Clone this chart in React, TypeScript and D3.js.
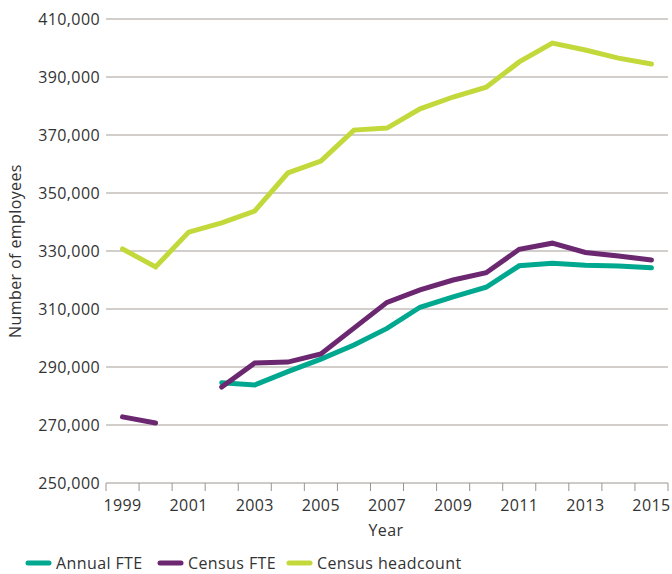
import React from "react";
import * as d3 from "d3";

const years = [
  1999, 2000, 2001, 2002, 2003, 2004, 2005, 2006, 2007, 2008, 2009, 2010, 2011, 2012, 2013, 2014, 2015,
];
const annualFte = [
  null, null, null, 284600, 283800, 288400, 292700, 297600, 303300, 310600, 314200, 317500, 324900, 325800, 325100, 324800, 324200,
];
const censusFte = [
  272800, 270700, null, 283100, 291400, 291700, 294500, 303400, 312300, 316600, 320000, 322500, 330600, 332700, 329500, 328300, 326900,
];
const censusHeadcount = [
  330700, 324500, 336500, 339700, 343800, 356900, 361000, 371700, 372400, 379000, 383100, 386500, 395200, 401700, 399300, 396500, 394500,
];
const yTicks = [250000, 270000, 290000, 310000, 330000, 350000, 370000, 390000, 410000];

const series = [
  { name: "Annual FTE", values: annualFte, color: "#00a88f" },
  { name: "Census FTE", values: censusFte, color: "#6b2770" },
  { name: "Census headcount", values: censusHeadcount, color: "#c3d93b" },
];

const W = 672;
const H = 574;
const left = 106;
const right = 668;
const top = 19;
const bottom = 483;
const font = "'Open Sans', sans-serif";
const textColor = "#333";
const fs = 16;
const ls = 0.4;

export default function App() {
  const x = d3
    .scaleBand<string>()
    .domain(years.map(String))
    .range([left, right])
    .padding(0);
  const y = d3.scaleLinear().domain([250000, 410000]).range([bottom, top]);
  const cx = (i: number) => (x(String(years[i])) as number) + x.bandwidth() / 2;

  const line = d3
    .line<number | null>()
    .defined((d) => d != null)
    .x((_, i) => cx(i))
    .y((d) => y(d as number));

  const tickXs = years.map((yr) => x(String(yr)) as number).concat([right]);

  return (
    <svg
      width={W}
      height={H}
      style={{ position: "absolute", left: 0, top: 0, fontFamily: font, letterSpacing: ls }}
    >
      {/* gridlines and y labels */}
      {yTicks.map((t) => (
        <g key={t}>
          {t !== 250000 && (
            <line x1={left} x2={right} y1={y(t)} y2={y(t)} stroke="#c2beba" strokeWidth={1.5} />
          )}
          <text
            x={left - 6}
            y={y(t)}
            dy="0.35em"
            textAnchor="end"
            fontSize={fs}
            fill={textColor}
          >
            {d3.format(",")(t)}
          </text>
        </g>
      ))}

      {/* x axis */}
      <line x1={left} x2={right} y1={bottom} y2={bottom} stroke="#9a9591" strokeWidth={1} />
      {tickXs.map((tx, i) => (
        <line key={i} x1={tx} x2={tx} y1={bottom} y2={bottom + 8} stroke="#9a9591" strokeWidth={1} />
      ))}
      {years.map((yr, i) =>
        i % 2 === 0 ? (
          <text
            key={yr}
            x={cx(i)}
            y={bottom + 22}
            dy="0.35em"
            textAnchor="middle"
            fontSize={fs}
            fill={textColor}
          >
            {yr}
          </text>
        ) : null
      )}

      {/* axis titles */}
      <text x={386} y={530} dy="0.35em" textAnchor="middle" fontSize={fs} fill={textColor}>
        Year
      </text>
      <text
        transform={`translate(15,${(top + bottom) / 2}) rotate(-90)`}
        dy="0.35em"
        textAnchor="middle"
        fontSize={fs}
        fill={textColor}
      >
        Number of employees
      </text>

      {/* lines */}
      {series.map((s) => (
        <path
          key={s.name}
          d={line(s.values) || ""}
          fill="none"
          stroke={s.color}
          strokeWidth={5}
          strokeLinejoin="miter"
          strokeLinecap="round"
        />
      ))}

      {/* legend */}
      {(() => {
        const starts = [28, 160, 289];
        return series.map((s, i) => (
          <g key={s.name} transform={`translate(${starts[i]},563)`}>
            <line x1={0} x2={21} y1={0} y2={0} stroke={s.color} strokeWidth={5} strokeLinecap="round" />
            <text x={28} y={0} dy="0.35em" fontSize={fs} fill={textColor}>
              {s.name}
            </text>
          </g>
        ));
      })()}
    </svg>
  );
}
